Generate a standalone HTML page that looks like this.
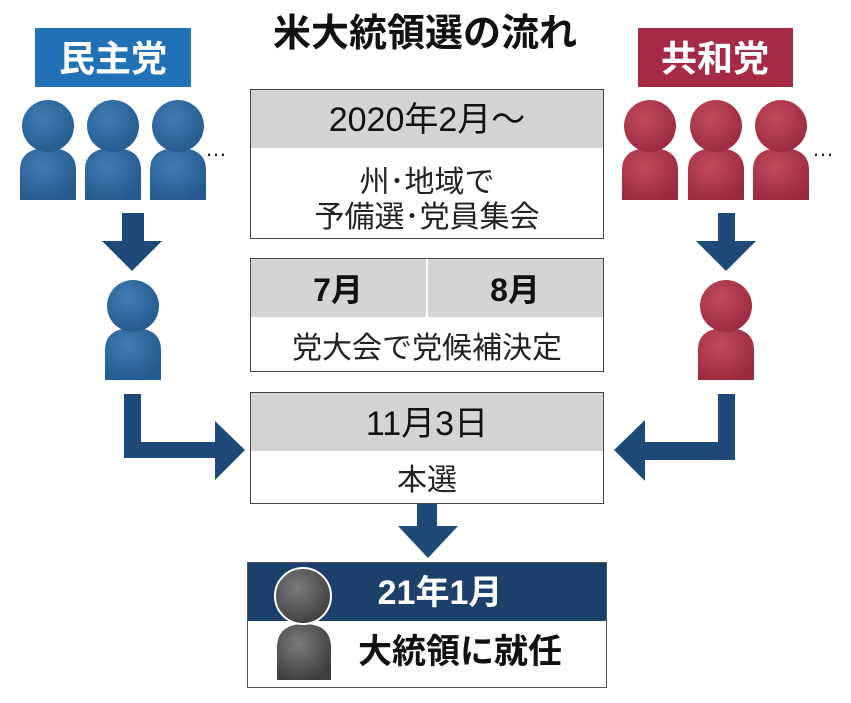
<!DOCTYPE html>
<html><head><meta charset="utf-8"><style>
body{margin:0;background:#fff;width:851px;height:698px;overflow:hidden}
svg text{font-family:"Liberation Sans","Noto Sans CJK JP",sans-serif}
</style></head><body>
<svg width="851" height="698" viewBox="0 0 851 698" xmlns="http://www.w3.org/2000/svg">
<defs>
<radialGradient id="gb" cx="0.4" cy="0.35" r="0.7"><stop offset="0" stop-color="#3f7bb3"/><stop offset="1" stop-color="#245a8f"/></radialGradient>
<radialGradient id="gr" cx="0.4" cy="0.35" r="0.7"><stop offset="0" stop-color="#c04a5c"/><stop offset="1" stop-color="#9a2a3e"/></radialGradient>
<radialGradient id="gg" cx="0.4" cy="0.35" r="0.7"><stop offset="0" stop-color="#7a7a7a"/><stop offset="1" stop-color="#3e3e3e"/></radialGradient>
<g id="pb"><path d="M0,52 L0,22 Q0,0 28,0 Q56,0 56,22 L56,52 Z" fill="url(#gb)"/><circle cx="28" cy="-22" r="26" fill="url(#gb)"/></g>
<g id="pr"><path d="M0,52 L0,22 Q0,0 28,0 Q56,0 56,22 L56,52 Z" fill="url(#gr)"/><circle cx="28" cy="-22" r="26" fill="url(#gr)"/></g>
</defs>
<text x="425" y="46" font-size="38" font-weight="bold" text-anchor="middle" fill="#111">米大統領選の流れ</text>
<rect x="35" y="28" width="156" height="59" fill="#2270b5"/>
<text x="113" y="71" font-size="36" font-weight="bold" text-anchor="middle" fill="#fff">民主党</text>
<rect x="638" y="28" width="155" height="59" fill="#a52b44"/>
<text x="715" y="71" font-size="36" font-weight="bold" text-anchor="middle" fill="#fff">共和党</text>
<use href="#pb" x="20" y="148"/><use href="#pb" x="85" y="148"/><use href="#pb" x="150" y="148"/>
<text x="205" y="156" font-size="22" fill="#222">…</text>
<use href="#pr" x="622" y="148"/><use href="#pr" x="688" y="148"/><use href="#pr" x="753" y="148"/>
<text x="812" y="156" font-size="22" fill="#222">…</text>
<use href="#pb" x="105" y="328"/>
<use href="#pr" x="698" y="328"/>
<g fill="#1d4a78">
<polygon points="122,213 144,213 144,241 162,241 132,271 102,241 122,241"/>
<polygon points="718,213 735,213 735,241 756,241 726,271 696,241 718,241"/>
<polygon points="124,394 141,394 141,442 215,442 215,421 245,450 215,480 215,458 124,458"/>
<polygon points="718,394 735,394 735,460 645,460 645,481 614,450 645,420 645,442 718,442"/>
<polygon points="417,503 437,503 437,526 458,526 428,558 398,526 417,526"/>
</g>
<rect x="250.5" y="89.5" width="353" height="149" fill="#fff" stroke="#444"/>
<rect x="251" y="90" width="352" height="58" fill="#d4d4d4"/>
<text x="427" y="131" font-size="34" text-anchor="middle" fill="#111">2020年2月～</text>
<text x="427" y="192" font-size="30" text-anchor="middle" fill="#222">州･地域で</text>
<text x="427" y="227" font-size="30" text-anchor="middle" fill="#222">予備選･党員集会</text>
<rect x="250.5" y="258.5" width="353" height="113" fill="#fff" stroke="#444"/>
<rect x="251" y="259" width="352" height="58" fill="#d4d4d4"/>
<line x1="427" y1="259" x2="427" y2="317" stroke="#fff" stroke-width="2"/>
<text x="338" y="301" font-size="32" font-weight="bold" text-anchor="middle" fill="#111">7月</text>
<text x="515" y="301" font-size="32" font-weight="bold" text-anchor="middle" fill="#111">8月</text>
<text x="427" y="358" font-size="30" text-anchor="middle" fill="#222">党大会で党候補決定</text>
<rect x="250.5" y="392.5" width="353" height="111" fill="#fff" stroke="#444"/>
<rect x="251" y="393" width="352" height="58" fill="#d4d4d4"/>
<text x="427" y="435" font-size="34" text-anchor="middle" fill="#111">11月3日</text>
<text x="427" y="490" font-size="30" text-anchor="middle" fill="#222">本選</text>
<rect x="247.5" y="562.5" width="359" height="125" fill="#fff" stroke="#555"/>
<rect x="248" y="563" width="358" height="58" fill="#1c3f6b"/>
<text x="440" y="604" font-size="34" font-weight="bold" text-anchor="middle" fill="#fff">21年1月</text>
<text x="460" y="663" font-size="34" font-weight="bold" text-anchor="middle" fill="#111">大統領に就任</text>
<path d="M277,680 L277,648 Q277,624 304,624 Q331,624 331,648 L331,680 Z" fill="url(#gg)"/>
<circle cx="303" cy="596" r="28" fill="url(#gg)" stroke="#fff" stroke-width="2"/>
</svg>
</body></html>
